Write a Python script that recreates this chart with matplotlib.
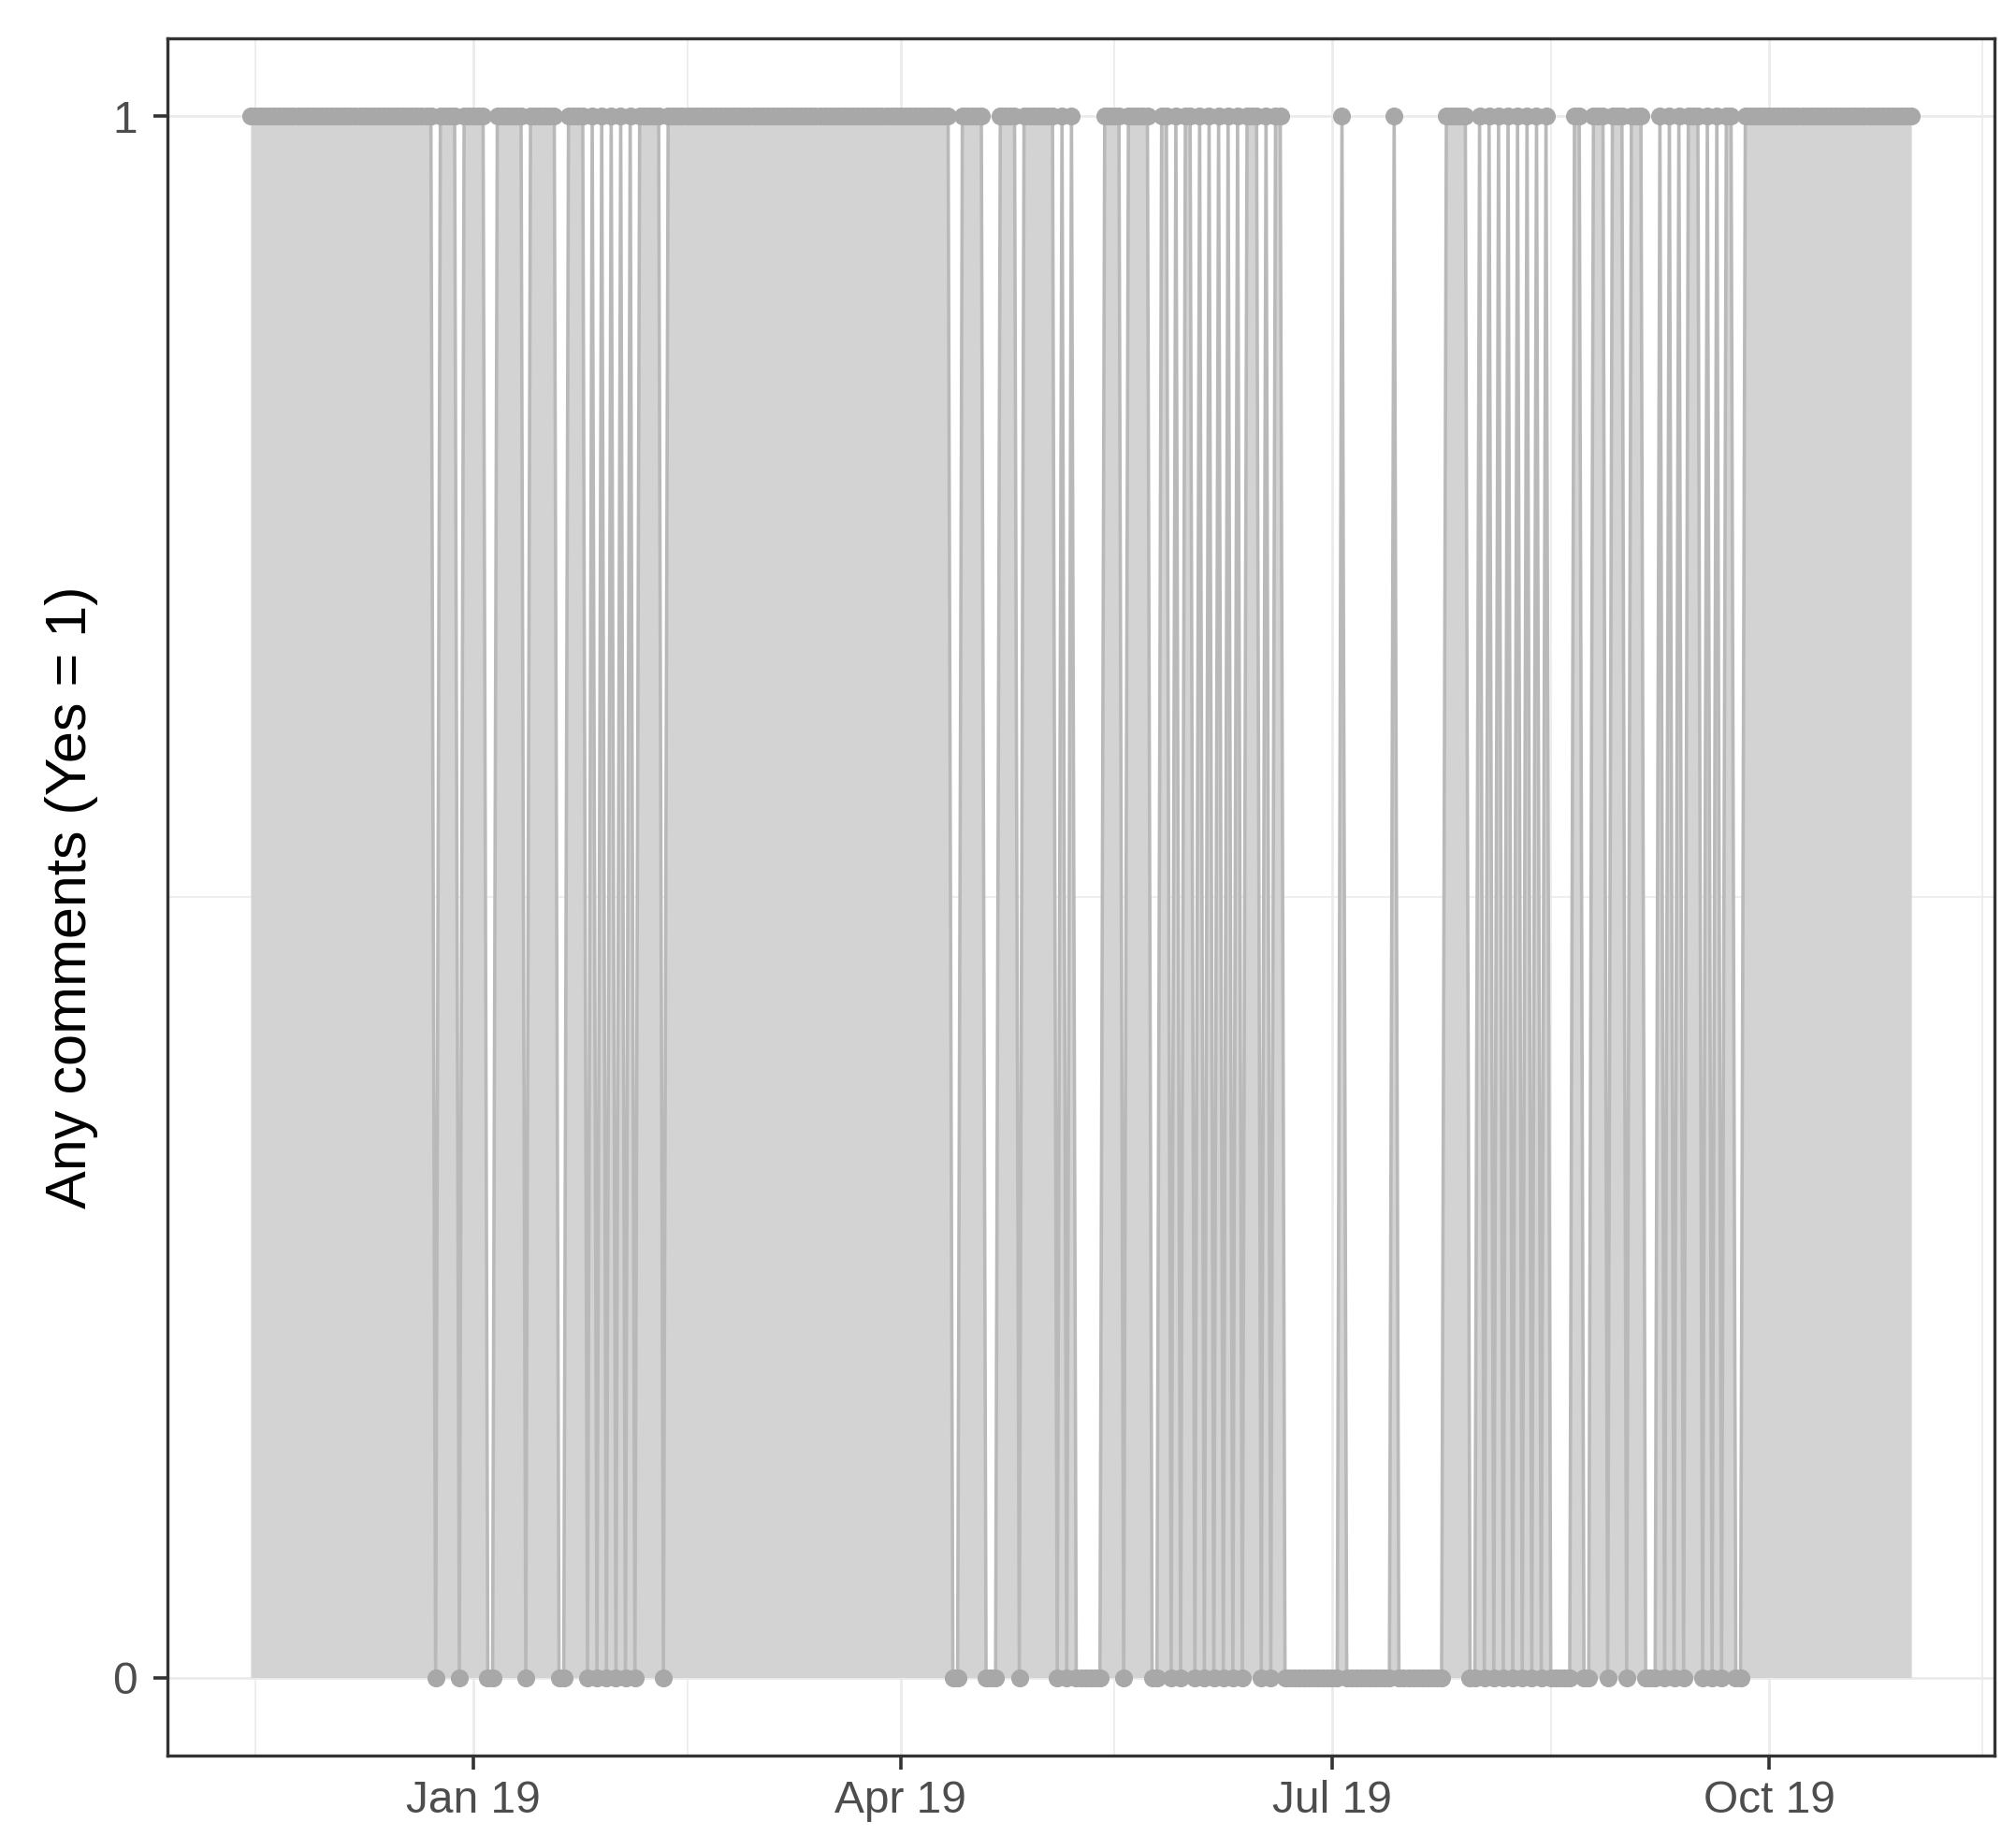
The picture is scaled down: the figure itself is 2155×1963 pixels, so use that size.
import matplotlib
matplotlib.use("Agg")
import matplotlib.pyplot as plt
import matplotlib.dates as mdates
import pandas as pd
import numpy as np

# Daily 0/1 values ("Any comments"), one character per day
start_date = "2018-11-15"
nov_2018 = "1111111111111111"
dec_2018 = "1111111111111111111111101111011"
jan_2019 = "1110011111101111110011110101010"
feb_2019 = "1010111110111111111111111111"
mar_2019 = "1111111111111111111111111111111"
apr_2019 = "111111111110011111000111101111"
may_2019 = "1110101000000111101111100110101"
jun_2019 = "101010101010111010110000000000"
jul_2019 = "0010000000000100000000001111100"
aug_2019 = "1010101010101010000011001110111"
sep_2019 = "011100010101011101010110011111"
oct_2019 = "1111111111111111111111111111111"

x_ticks = ["2019-01-01", "2019-04-01", "2019-07-01", "2019-10-01"]
x_minor = ["2018-11-16", "2019-02-15", "2019-05-16", "2019-08-16", "2019-11-15"]
y_ticks = [0, 1]
y_label = "Any comments (Yes = 1)"

months = [nov_2018, dec_2018, jan_2019, feb_2019, mar_2019, apr_2019, may_2019,
          jun_2019, jul_2019, aug_2019, sep_2019, oct_2019]
values = np.array([int(c) for m in months for c in m], dtype=float)
dates = pd.date_range(start_date, periods=len(values), freq="D")

plt.rcParams["font.family"] = ["Liberation Sans", "DejaVu Sans"]

fig = plt.figure(figsize=(21.55, 19.63), dpi=100)
ax = fig.add_axes([0.0831, 0.0438, 0.9062, 0.9353])

ax.fill_between(dates, values, 0, color="#D3D3D3", lw=0, zorder=2)
ax.plot(dates, values, color="#B9B9B9", lw=2.6, zorder=3, solid_joinstyle="round")
ax.scatter(dates, values, s=190, color="#A8A8A8", lw=0, zorder=4)

# limits with 5% expansion like ggplot
span = dates[-1] - dates[0]
ax.set_xlim(dates[0] - span * 0.05, dates[-1] + span * 0.05)
ax.set_ylim(-0.05, 1.05)

ax.set_xticks(pd.to_datetime(x_ticks))
ax.xaxis.set_major_formatter(mdates.DateFormatter("%b %y"))
ax.set_xticks(pd.to_datetime(x_minor), minor=True)
ax.set_yticks(y_ticks)
ax.set_yticklabels([str(v) for v in y_ticks])
ax.set_yticks([0.5], minor=True)

ax.grid(True, which="major", color="#EBEBEB", lw=2.0, zorder=0)
ax.grid(True, which="minor", color="#EBEBEB", lw=1.2, zorder=0)
ax.set_axisbelow(True)

for s in ax.spines.values():
    s.set_color("#333333")
    s.set_linewidth(2.4)

ax.tick_params(axis="both", which="major", length=11, width=2.6, color="#333333",
               labelsize=34.5, labelcolor="#4D4D4D")
ax.tick_params(axis="x", which="major", pad=8)
ax.tick_params(axis="y", which="major", pad=12)
ax.tick_params(which="minor", length=0)

ax.set_ylabel(y_label, fontsize=44, color="#000000", labelpad=11)

fig.savefig("out.png", dpi=100)
